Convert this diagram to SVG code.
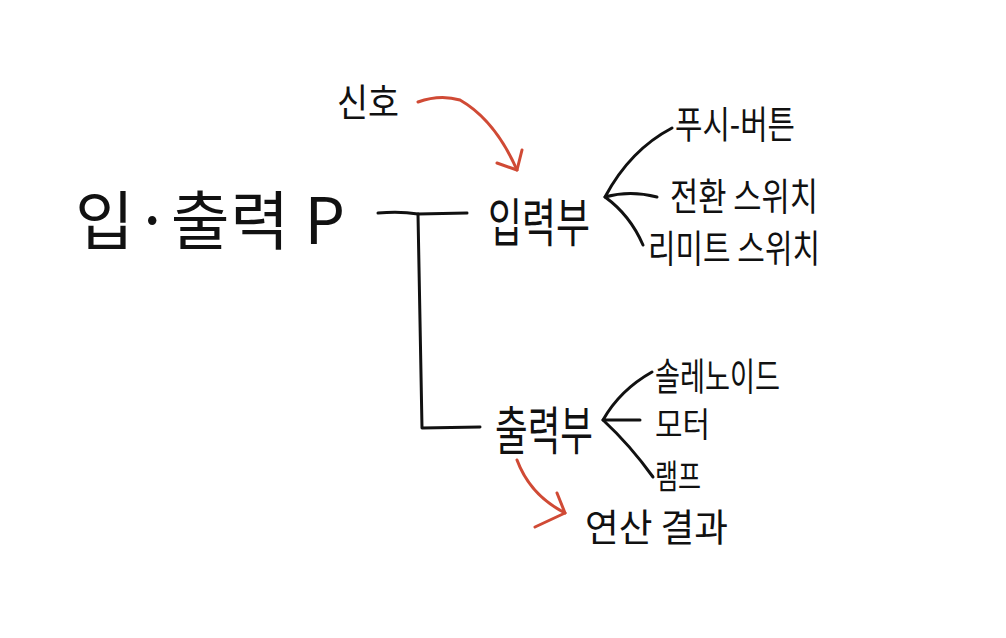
<svg xmlns="http://www.w3.org/2000/svg" width="1006" height="638" viewBox="0 0 1006 638">
<defs>
<style>
text{font-family:"Noto Sans CJK KR","Noto Sans",sans-serif;fill:#111;}
.main{font-size:64px;}
.mid{font-size:52px;}
.leaf{font-size:38px;}
.sm{font-size:34px;}
.ln{fill:none;stroke:#111;stroke-width:3;stroke-linecap:round;stroke-linejoin:round;}
.red{fill:none;stroke:#d04a35;stroke-width:3;stroke-linecap:round;stroke-linejoin:round;}
</style>
</defs>
<rect width="1006" height="638" fill="#fff"/>
<g id="connectors">
<path class="ln" d="M378,213 Q400,211 418,214 L467,213"/>
<path class="ln" d="M418,214 L422,428 L480,427"/>
<path class="ln" d="M672,128 Q630,150 605,197 Q630,190 657,197"/>
<path class="ln" d="M605,197 Q630,215 643,245"/>
<path class="ln" d="M652,372 Q620,390 603,420 L640,420"/>
<path class="ln" d="M603,420 Q630,445 653,477"/>
<path class="red" d="M418,102 Q440,94 460,100 Q495,120 517,170"/>
<path class="red" d="M497,163 L517,170 L522,150"/>
<path class="red" d="M517,460 Q530,495 565,513"/>
<path class="red" d="M557,493 L565,513 L535,527"/>
</g>
<g id="node-io"><text class="main" x="75" y="244" textLength="270" lengthAdjust="spacing">입·출력 P</text></g>
<g id="node-signal"><text class="leaf" x="337" y="116" textLength="62" lengthAdjust="spacingAndGlyphs">신호</text></g>
<g id="node-input"><text class="mid" x="488" y="242" textLength="102" lengthAdjust="spacingAndGlyphs">입력부</text></g>
<g id="node-output"><text class="mid" x="495" y="450" textLength="98" lengthAdjust="spacingAndGlyphs">출력부</text></g>
<g id="node-push"><text class="leaf" x="675" y="138" textLength="120" lengthAdjust="spacingAndGlyphs">푸시-버튼</text></g>
<g id="node-toggle"><text class="leaf" x="670" y="210" textLength="148" lengthAdjust="spacingAndGlyphs">전환 스위치</text></g>
<g id="node-limit"><text class="leaf" x="648" y="262" textLength="172" lengthAdjust="spacingAndGlyphs">리미트 스위치</text></g>
<g id="node-solenoid"><text class="leaf" x="655" y="390" textLength="125" lengthAdjust="spacingAndGlyphs">솔레노이드</text></g>
<g id="node-motor"><text class="sm" x="655" y="437" textLength="55" lengthAdjust="spacingAndGlyphs">모터</text></g>
<g id="node-lamp"><text class="sm" x="655" y="489" textLength="46" lengthAdjust="spacingAndGlyphs">램프</text></g>
<g id="node-result"><text class="leaf" x="585" y="541" textLength="143" lengthAdjust="spacingAndGlyphs">연산 결과</text></g>
</svg>
